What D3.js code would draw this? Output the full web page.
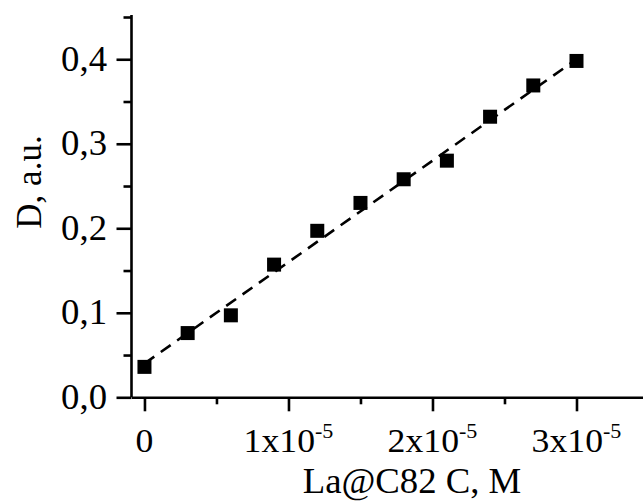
<!DOCTYPE html>
<html><head><meta charset="utf-8">
<script src="https://cdn.jsdelivr.net/npm/d3@7"></script>
<style>body{margin:0;background:#fff}svg{display:block}</style>
</head><body>
<script>
// ---- data ----
const concentrations = [0, 0.3e-5, 0.6e-5, 0.9e-5, 1.2e-5, 1.5e-5, 1.8e-5, 2.1e-5, 2.4e-5, 2.7e-5, 3.0e-5];
const absorbance = [0.036, 0.076, 0.097, 0.157, 0.197, 0.230, 0.258, 0.280, 0.332, 0.369, 0.398];
const fitX = [0, 3.0e-5];
const fitY = [0.040, 0.400];
const xMajorTicks = [0, 1e-5, 2e-5, 3e-5];
const xTickMantissa = ["0", "1", "2", "3"];
const xTickExponent = "-5";
const xMinorTicks = [0.5e-5, 1.5e-5, 2.5e-5, 3.5e-5];
const yMajorTicks = [0, 0.1, 0.2, 0.3, 0.4];
const yTickLabels = ["0,0", "0,1", "0,2", "0,3", "0,4"];
const yMinorTicks = [0.05, 0.15, 0.25, 0.35, 0.45];
const xTitle = "La@C82 C, M";
const yTitle = "D, a.u.";

// ---- layout ----
const W = 643, H = 503;
const SX = 1.05; // horizontal text stretch
const FONT = "'Liberation Serif','Times New Roman',serif";

const svg = d3.select("body").append("svg").attr("width", W).attr("height", H)
  .style("background", "#fff");

const x = d3.scaleLinear().domain([-0.09e-5, 3.5e-5]).range([131.5, 648.5]);
const y = d3.scaleLinear().domain([0, 0.45]).range([397.3, 17]);

const axisStroke = 2.6;

function styleAxis(g) {
  g.selectAll("path,line").attr("stroke", "#000").attr("stroke-width", axisStroke);
  g.selectAll("text").remove();
}

// Y axis
svg.append("g").attr("transform", "translate(131.5,0)")
  .call(d3.axisLeft(y).tickValues(yMajorTicks).tickSize(15).tickSizeOuter(0).tickFormat(""))
  .call(styleAxis)
  .select(".domain").attr("d", `M0,${y(0)}V15`);
svg.append("g").attr("transform", "translate(131.5,0)")
  .call(d3.axisLeft(y).tickValues(yMinorTicks).tickSize(8).tickSizeOuter(0).tickFormat(""))
  .call(styleAxis)
  .call(g => g.select(".domain").remove());

// X axis
svg.append("g").attr("transform", `translate(0,${y(0)})`)
  .call(d3.axisBottom(x).tickValues(xMajorTicks).tickSize(14).tickSizeOuter(0).tickFormat(""))
  .call(styleAxis);
svg.append("g").attr("transform", `translate(0,${y(0)})`)
  .call(d3.axisBottom(x).tickValues(xMinorTicks).tickSize(7).tickSizeOuter(0).tickFormat(""))
  .call(styleAxis)
  .call(g => g.select(".domain").remove());

// Y tick labels
yMajorTicks.forEach((v, i) => {
  svg.append("text")
    .attr("transform", `translate(107,${y(v)}) scale(${SX},1)`)
    .attr("text-anchor", "end").attr("dy", "0.33em")
    .attr("font-family", FONT).attr("font-size", 35).attr("fill", "#000")
    .text(yTickLabels[i]);
});

// X tick labels
xMajorTicks.forEach((v, i) => {
  const t = svg.append("text")
    .attr("transform", `translate(${x(v)},452) scale(${SX},1)`)
    .attr("text-anchor", "middle")
    .attr("font-family", FONT).attr("font-size", 34).attr("fill", "#000");
  if (v === 0) { t.text(xTickMantissa[i]); }
  else {
    t.append("tspan").text(xTickMantissa[i] + "x10");
    t.append("tspan").attr("font-size", 21).attr("dy", -14).text(xTickExponent);
  }
});

// Axis titles
svg.append("text")
  .attr("transform", `translate(412,493) scale(${SX},1)`)
  .attr("text-anchor", "middle")
  .attr("font-family", FONT).attr("font-size", 35).attr("fill", "#000")
  .text(xTitle);
svg.append("text")
  .attr("transform", `translate(41,182) scale(${SX},1) rotate(-90)`)
  .attr("text-anchor", "middle")
  .attr("font-family", FONT).attr("font-size", 35).attr("fill", "#000")
  .text(yTitle);

// Fit line (dashed)
const pts = fitX.map((d, i) => [d, fitY[i]]);
svg.append("path")
  .attr("d", d3.line().x(d => x(d[0])).y(d => y(d[1]))(pts))
  .attr("fill", "none").attr("stroke", "#000").attr("stroke-width", 2.6)
  .attr("stroke-dasharray", "12,8");

// Data markers
const S = 14;
svg.append("g").selectAll("rect")
  .data(concentrations.map((c, i) => ({c, a: absorbance[i]})))
  .join("rect")
  .attr("x", d => x(d.c) - S / 2).attr("y", d => y(d.a) - S / 2)
  .attr("width", S).attr("height", S).attr("fill", "#000");
</script>
</body></html>
